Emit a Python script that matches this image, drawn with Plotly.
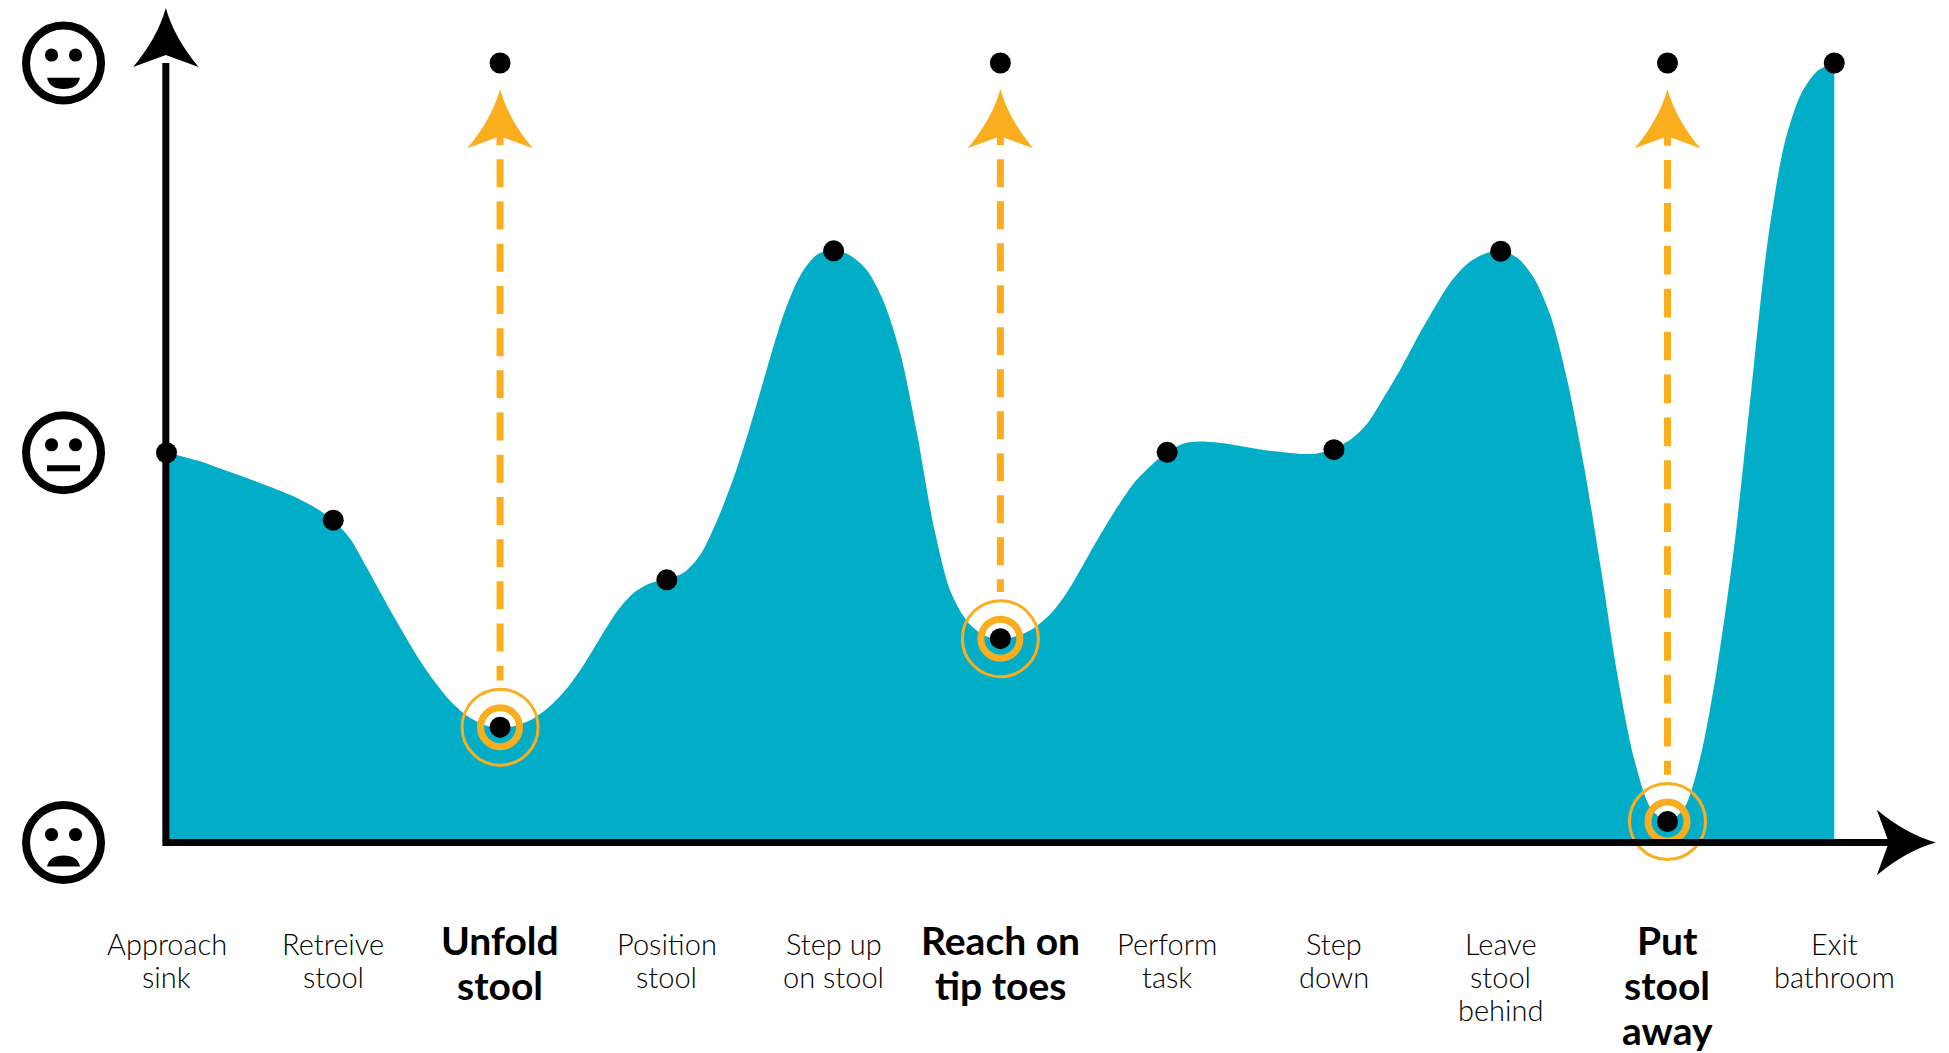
import plotly.graph_objects as go

# ---- data ----
steps = [["Approach", "sink"], ["Retreive", "stool"], ["Unfold", "stool"], ["Position", "stool"],
         ["Step up", "on stool"], ["Reach on", "tip toes"], ["Perform", "task"], ["Step", "down"],
         ["Leave", "stool", "behind"], ["Put", "stool", "away"], ["Exit", "bathroom"]]
step_idx = [0, 1, 2, 3, 4, 5, 6, 7, 8, 9, 10]
mood = [1.0, 0.827, 0.296, 0.674, 1.518, 0.523, 1.001, 1.008, 1.517, 0.054, 2.0]
pain_steps = [2, 5, 9]
pain_mood = [0.296, 0.523, 0.054]
target_mood = [2, 2, 2]
arrow_start_mood = 1.861
arrow_tip_mood = 1.9325
bold_steps = [2, 5, 9]

# mood every tenth of a step, 0.0 to 10.0
curve_mood = [1.000, .990, .978, .963, .948, .932, .916, .899, .880, .857,
              .826, .780, .706, .628, .552, .480, .417, .364, .326, .303,
              .293, .300, .318, .350, .395, .455, .525, .592, .640, .665,
              .676, .692, .738, .825, .935, 1.068, 1.215, 1.355, 1.455, 1.508,
              1.520, 1.506, 1.468, 1.388, 1.255, 1.050, .812, .645, .568, .532,
              .522, .530, .550, .586, .642, .715, .790, .860, .922, .966,
              1.002, 1.024, 1.029, 1.026, 1.020, 1.013, 1.006, 1.001, .997, .998,
              1.012, 1.034, 1.075, 1.143, 1.215, 1.295, 1.370, 1.438, 1.485, 1.510,
              1.518, 1.500, 1.448, 1.350, 1.185, .965, .705, .430, .215, .088,
              .055, .088, .224, .455, .760, 1.150, 1.540, 1.790, 1.920, 1.980,
              2.000]
curve_step = [i / 10 for i in range(len(curve_mood))]

# ---- style ----
TEAL = "#02ADC7"
ORANGE = "#FBAE1D"
BLACK = "#000000"
FONT_REG = "Lato Light, Lato, sans-serif"
FONT_BOLD = "Lato, sans-serif"
pain_dash = ["28px,14.2px", "28px,14px", "28.7px,14.2px"]

fig = go.Figure()
fig.add_trace(go.Scatter(x=curve_step, y=curve_mood, mode="lines", fill="tozeroy", fillcolor=TEAL,
                         line=dict(color=TEAL, width=0, shape="spline", smoothing=0.8), hoverinfo="skip"))
for s, m, d in zip(pain_steps, pain_mood, pain_dash):
    fig.add_trace(go.Scatter(x=[s, s], y=[arrow_start_mood, m + 0.12], mode="lines",
                             line=dict(color=ORANGE, width=7, dash=d), hoverinfo="skip"))
fig.add_trace(go.Scatter(x=pain_steps, y=pain_mood, mode="markers",
                         marker=dict(symbol="circle-open", size=39, color=ORANGE, line=dict(color=ORANGE, width=7)), hoverinfo="skip"))
fig.add_trace(go.Scatter(x=pain_steps, y=pain_mood, mode="markers",
                         marker=dict(symbol="circle-open", size=76, color=ORANGE, line=dict(color=ORANGE, width=3)), hoverinfo="skip"))
fig.add_trace(go.Scatter(x=step_idx, y=mood, mode="markers", marker=dict(color=BLACK, size=21),
                         text=[" ".join(s) for s in steps], hoverinfo="text"))
fig.add_trace(go.Scatter(x=pain_steps, y=target_mood, mode="markers", marker=dict(color=BLACK, size=21),
                         hoverinfo="skip"))

shapes = []
shapes.append(dict(type="line", xref="x", yref="y", x0=-0.021, x1=10.45, y0=0, y1=0, line=dict(color=BLACK, width=7), layer="above"))
shapes.append(dict(type="line", xref="x", yref="y", x0=-0.004, x1=-0.004, y0=-0.009, y1=2.0, line=dict(color=BLACK, width=7), layer="above"))

def up_head(xa, ya, color):
    return dict(type="path", xref="x", yref="y", xsizemode="pixel", ysizemode="pixel", xanchor=xa, yanchor=ya,
                path="M0,0 Q8.2,-29.5 32.7,-59 L0,-47 L-32.7,-59 Q-8.2,-29.5 0,0 Z",
                fillcolor=color, line=dict(width=0), layer="above")

shapes.append(up_head(-0.004, 2.141, BLACK))
shapes.append(dict(type="path", xref="x", yref="y", xsizemode="pixel", ysizemode="pixel", xanchor=10.609, yanchor=0,
                   path="M0,0 Q-29.5,8.2 -59,32.7 L-47,0 L-59,-32.7 Q-29.5,-8.2 0,0 Z",
                   fillcolor=BLACK, line=dict(width=0), layer="above"))
for s in pain_steps:
    shapes.append(up_head(s, arrow_tip_mood, ORANGE))

# mood faces (y-axis symbols)
FACE_X = 0.0326
for level, face in [(2, "happy"), (1, "neutral"), (0, "sad")]:
    base = dict(xref="paper", yref="y", xsizemode="pixel", ysizemode="pixel", xanchor=FACE_X, yanchor=level)
    shapes.append(dict(type="circle", x0=-37.5, x1=37.5, y0=-37.5, y1=37.5, line=dict(color=BLACK, width=8),
                       fillcolor="rgba(0,0,0,0)", **base))
    for ex in (-12, 12):
        shapes.append(dict(type="circle", x0=ex - 6.6, x1=ex + 6.6, y0=1.4, y1=14.6, line=dict(width=0), fillcolor=BLACK, **base))
    if face == "happy":
        shapes.append(dict(type="path", path="M-16.5,-14.7 L16.5,-14.7 Q14,-26 0,-26 Q-14,-26 -16.5,-14.7 Z", line=dict(width=0), fillcolor=BLACK, **base))
    elif face == "neutral":
        shapes.append(dict(type="path", path="M-16.5,-15.5 L16.5,-15.5", line=dict(color=BLACK, width=6), **base))
    else:
        shapes.append(dict(type="path", path="M-16.5,-24 L16.5,-24 Q14,-13 0,-13 Q-14,-13 -16.5,-24 Z", line=dict(width=0), fillcolor=BLACK, **base))

annotations = []
for i, lines in zip(step_idx, steps):
    bold = i in bold_steps
    for n, line in enumerate(lines):
        ypx = (940 + 45 * n) if bold else (943.5 + 33.2 * n)
        annotations.append(dict(x=i, xref="x", y=1 - ypx / 1053, yref="paper", yanchor="middle", xanchor="center",
                                showarrow=False, text=f"<b>{line}</b>" if bold else line,
                                font=dict(family=FONT_BOLD if bold else FONT_REG, size=39 if bold else 29, color=BLACK)))

fig.update_layout(width=1949, height=1053, margin=dict(l=0, r=0, t=0, b=0), autosize=False,
                  paper_bgcolor="white", plot_bgcolor="white", showlegend=False,
                  xaxis=dict(visible=False, range=[-0.9984, 10.688], fixedrange=True),
                  yaxis=dict(visible=False, range=[-0.540, 2.1616], fixedrange=True),
                  shapes=shapes, annotations=annotations)
fig.write_html("out.html", config=dict(displayModeBar=False),
               post_script="document.body.style.margin='0';")
